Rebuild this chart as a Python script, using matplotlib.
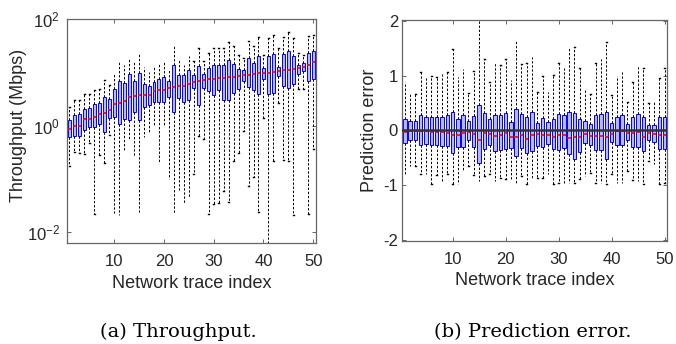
#!/usr/bin/env python3
"""Box plots of per-trace throughput and prediction error (two panels)."""

import matplotlib
matplotlib.use("Agg")
import matplotlib.pyplot as plt
import numpy as np

# -----------------------------------------------------------------------------
# DATA
# -----------------------------------------------------------------------------

TRACE_INDEX = np.arange(1, 51)
X_TICKS = [10, 20, 30, 40, 50]

# Throughput in Mbps: lower whisker, Q1, median, Q3, upper whisker
TP_WHISLO = [0.177, 0.313, 0.31, 0.29, 0.48, 0.022, 0.28, 0.20, 0.67, 0.0228,
             0.021, 0.337, 0.53, 0.264, 0.0231, 0.62, 0.74, 0.99, 0.21, 1.01,
             0.10, 0.022, 0.063, 0.0356, 0.045, 0.124, 0.64, 0.556, 0.022, 0.034,
             0.0356, 0.060, 0.0366, 0.219, 0.30, 0.79, 0.075, 0.107, 0.0238, 1.41,
             0.003, 0.22, 2.69, 0.229, 0.22, 0.0206, 4.76, 4.76, 0.022, 0.36]
TP_Q1 = [0.615, 0.63, 0.65, 0.83, 0.92, 0.94, 1.09, 0.77, 1.41, 1.47,
         1.09, 1.33, 1.28, 1.80, 1.28, 2.26, 2.43, 2.80, 2.80, 2.80,
         3.43, 1.82, 3.33, 2.73, 3.06, 5.05, 2.43, 5.05, 4.43, 3.73,
         4.63, 2.97, 3.01, 4.13, 4.76, 6.71, 5.26, 4.63, 3.84, 7.42,
         3.95, 4.01, 8.45, 5.57, 4.97, 6.08, 9.33, 10.5, 6.81, 7.32]
TP_MED = [0.88, 0.97, 0.97, 1.33, 1.35, 1.43, 1.67, 1.75, 1.96, 2.57,
          2.69, 2.89, 3.48, 3.58, 3.68, 3.68, 3.73, 4.43, 4.56, 4.70,
          4.97, 5.26, 5.50, 5.57, 5.90, 6.53, 6.81, 7.11, 7.32, 7.53,
          7.64, 7.87, 8.09, 8.20, 8.45, 8.69, 9.07, 9.33, 9.60, 9.75,
          9.75, 10.0, 10.5, 10.8, 11.1, 11.6, 12.1, 12.6, 13.9, 15.6]
TP_Q3 = [1.29, 1.58, 1.63, 2.08, 2.17, 2.50, 2.69, 3.38, 3.10, 4.90,
         6.81, 6.34, 9.33, 6.71, 9.75, 5.90, 5.57, 6.53, 7.53, 8.20,
         6.92, 13.9, 9.07, 8.81, 10.9, 9.07, 13.0, 9.33, 12.1, 13.9,
         13.9, 13.9, 17.0, 14.1, 11.6, 10.9, 18.6, 15.0, 20.5, 12.1,
         19.9, 22.0, 12.6, 22.0, 25.4, 20.5, 13.7, 14.6, 23.0, 25.4]
TP_WHISHI = [2.26, 2.97, 2.97, 3.84, 3.95, 4.56, 4.76, 7.3, 5.65, 9.75,
             15.4, 13.5, 17.8, 15.9, 23.0, 12.4, 10.2, 12.4, 14.8, 16.1,
             11.7, 32.0, 17.8, 13.9, 20.5, 16.1, 28.5, 16.1, 23.0, 28.5,
             28.5, 28.5, 36.4, 30.6, 21.4, 18.6, 39.1, 30.6, 45.0, 21.4,
             43.8, 50.6, 28.5, 45.0, 56.7, 43.8, 23.0, 21.4, 47.1, 49.2]

# Prediction error: lower whisker, Q1, median, Q3, upper whisker
ERR_WHISLO = [-0.82, -0.655, -0.655, -0.806, -0.80, -0.988, -0.82, -0.927, -0.806, -0.988,
              -0.988, -0.745, -0.655, -0.82, -0.927, -0.836, -0.80, -0.927, -0.88, -0.897,
              -0.897, -0.976, -0.836, -0.976, -0.867, -0.879, -0.867, -0.80, -0.976, -0.958,
              -0.958, -0.958, -0.97, -0.897, -0.836, -0.776, -0.958, -0.958, -0.988, -0.806,
              -0.958, -0.958, -0.745, -0.915, -0.927, -0.988, -0.564, -0.606, -0.988, -0.958]
ERR_Q1 = [-0.236, -0.176, -0.176, -0.26, -0.255, -0.26, -0.26, -0.285, -0.279, -0.412,
          -0.303, -0.303, -0.176, -0.303, -0.594, -0.339, -0.261, -0.382, -0.352, -0.339,
          -0.321, -0.473, -0.321, -0.418, -0.382, -0.291, -0.303, -0.248, -0.345, -0.358,
          -0.321, -0.430, -0.515, -0.400, -0.230, -0.261, -0.358, -0.358, -0.521, -0.218,
          -0.273, -0.261, -0.182, -0.303, -0.309, -0.382, -0.176, -0.206, -0.345, -0.345]
ERR_MED = [-0.03, -0.006, -0.006, -0.018, -0.012, -0.024, -0.03, -0.036, -0.042, -0.091,
           -0.079, -0.042, -0.03, -0.061, -0.182, -0.048, -0.067, -0.109, -0.079, -0.055,
           -0.121, -0.115, -0.091, -0.152, -0.085, -0.061, -0.079, -0.079, -0.121, -0.091,
           -0.079, -0.133, -0.127, -0.121, -0.061, -0.109, -0.109, -0.097, -0.121, -0.067,
           -0.018, -0.018, -0.048, -0.055, -0.030, -0.121, -0.048, -0.061, -0.079, -0.085]
ERR_Q3 = [0.21, 0.164, 0.164, 0.273, 0.248, 0.248, 0.248, 0.248, 0.273, 0.345,
          0.206, 0.273, 0.176, 0.255, 0.467, 0.321, 0.206, 0.285, 0.279, 0.321,
          0.158, 0.388, 0.297, 0.242, 0.333, 0.133, 0.224, 0.145, 0.212, 0.297,
          0.273, 0.345, 0.309, 0.212, 0.164, 0.115, 0.285, 0.303, 0.345, 0.133,
          0.248, 0.273, 0.115, 0.248, 0.303, 0.248, 0.103, 0.103, 0.248, 0.248]
ERR_WHISHI = [0.89, 0.66, 0.66, 1.06, 0.96, 0.99, 0.98, 1.04, 1.07, 1.48,
              0.97, 1.13, 0.68, 1.09, 2.01, 1.30, 0.89, 1.25, 1.19, 1.30,
              0.92, 1.66, 1.22, 1.24, 1.35, 0.71, 0.994, 0.709, 1.01, 1.24,
              1.15, 1.50, 1.53, 1.15, 0.733, 0.661, 1.24, 1.30, 1.62, 0.648,
              0.994, 1.06, 0.515, 0.891, 1.19, 1.15, 0.497, 0.527, 0.952, 1.15]

# -----------------------------------------------------------------------------
# STYLE
# -----------------------------------------------------------------------------

TEXT_COLOR = "#262626"
FRAME_COLOR = "#666666"
BOX_EDGE = "#0000ff"
BOX_FACE = "#b8b8ff"
SANS = ["Liberation Sans", "DejaVu Sans"]
SERIF = ["DejaVu Serif"]

plt.rcParams["font.family"] = SANS
plt.rcParams["axes.unicode_minus"] = False
plt.rcParams["mathtext.fontset"] = "custom"
plt.rcParams["mathtext.rm"] = "Liberation Sans"


def make_stats(lo, q1, med, q3, hi):
    return [
        dict(whislo=a, q1=b, med=c, q3=d, whishi=e, fliers=[])
        for a, b, c, d, e in zip(lo, q1, med, q3, hi)
    ]


def draw_boxes(ax, stats, width):
    ax.bxp(
        stats,
        positions=TRACE_INDEX,
        widths=width,
        capwidths=0.12,
        patch_artist=True,
        showfliers=False,
        boxprops=dict(facecolor=BOX_FACE, edgecolor=BOX_EDGE, linewidth=0.7),
        medianprops=dict(color="#ff0000", linewidth=1.2),
        whiskerprops=dict(color="black", linewidth=0.7, linestyle=(0, (2.4, 1.8))),
        capprops=dict(color="black", linewidth=1.0),
        manage_ticks=False,
    )


def style_axes(ax, ypad):
    ax.set_xlim(0.5, 50.5)
    ax.set_xticks(X_TICKS)
    ax.tick_params(direction="in", top=True, right=True, length=3, width=0.7,
                   color=FRAME_COLOR, labelcolor=TEXT_COLOR, labelsize=12)
    ax.tick_params(axis="x", pad=8)
    ax.tick_params(axis="y", pad=ypad)
    for spine in ax.spines.values():
        spine.set_color(FRAME_COLOR)
        spine.set_linewidth(0.9)
    ax.set_xlabel("Network trace index", fontsize=13, color=TEXT_COLOR,
                  labelpad=4)


def main() -> None:
    fig = plt.figure(figsize=(6.76, 3.44), dpi=100)

    # (a) Throughput
    ax1 = fig.add_axes([0.099, 0.294, 0.368, 0.651])
    draw_boxes(ax1, make_stats(TP_WHISLO, TP_Q1, TP_MED, TP_Q3, TP_WHISHI), 0.6)
    ax1.set_yscale("log")
    ax1.set_ylim(10 ** -2.2, 100)
    ax1.set_yticks([1e-2, 1e0, 1e2])
    ax1.minorticks_off()
    style_axes(ax1, 5)
    ax1.set_ylabel("Throughput (Mbps)", fontsize=13, color=TEXT_COLOR)
    ax1.yaxis.set_label_coords(-0.16, 0.525)

    # (b) Prediction error
    ax2 = fig.add_axes([0.595, 0.300, 0.392, 0.642])
    draw_boxes(ax2, make_stats(ERR_WHISLO, ERR_Q1, ERR_MED, ERR_Q3, ERR_WHISHI), 0.65)
    ax2.axhline(0.0, color="#333333", linewidth=1.8, zorder=5)
    ax2.set_ylim(-2.02, 2.02)
    ax2.set_yticks([-2, -1, 0, 1, 2])
    style_axes(ax2, 3)
    ax2.set_ylabel("Prediction error", fontsize=13, color=TEXT_COLOR)
    ax2.yaxis.set_label_coords(-0.09, 0.5)

    base = 1 - 337 / 344
    fig.text(178 / 676, base, "(a) Throughput.", ha="center", va="baseline",
             fontsize=14, family=SERIF, color="black")
    fig.text(533 / 676, base, "(b) Prediction error.", ha="center",
             va="baseline", fontsize=14, family=SERIF, color="black")

    fig.savefig("out.png", dpi=100)
    plt.close(fig)


if __name__ == "__main__":
    main()
